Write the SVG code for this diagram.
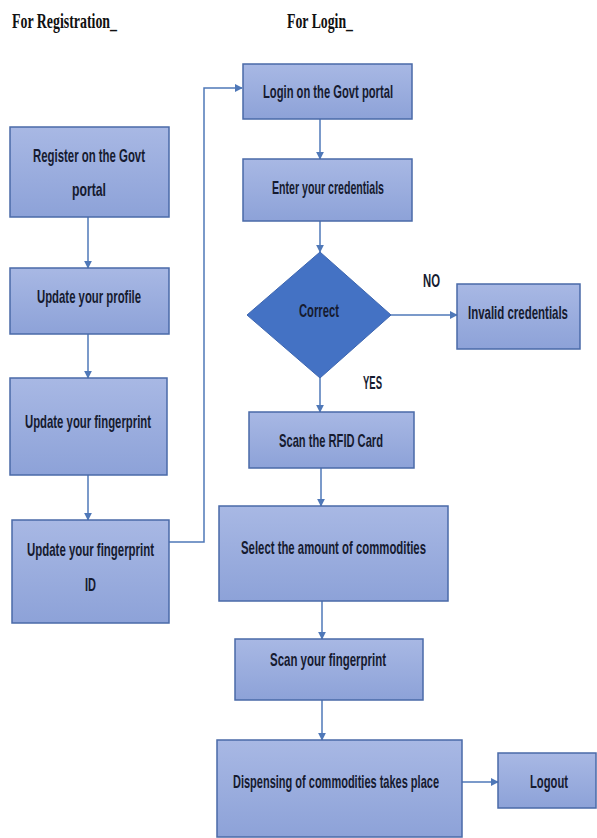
<svg xmlns="http://www.w3.org/2000/svg" width="597" height="838" viewBox="0 0 597 838">
<defs>
<linearGradient id="boxg" x1="0" y1="0" x2="0" y2="1">
<stop offset="0" stop-color="#a8b8e4"/>
<stop offset="1" stop-color="#8da2d8"/>
</linearGradient>
<marker id="arr" viewBox="0 0 10 10" refX="9" refY="5" markerWidth="8" markerHeight="8" markerUnits="userSpaceOnUse" orient="auto">
<path d="M0,0 L10,5 L0,10 z" fill="#4f78b8"/>
</marker>
<style>
.box{fill:url(#boxg);stroke:#4a6aa8;stroke-width:1.5}
.dia{fill:#4472c4;stroke:#3d66b0;stroke-width:1}
.lbl{font-family:"Liberation Sans",Arial,sans-serif;font-weight:bold;font-size:19px;fill:#161b30}
.ttl{font-family:"Liberation Serif","Times New Roman",serif;font-weight:bold;font-size:21px;fill:#111}
.con{fill:none;stroke:#4f78b8;stroke-width:1.5;marker-end:url(#arr)}
</style>
</defs>
<rect width="597" height="838" fill="#ffffff"/>
<text class="ttl" x="12" y="28" textLength="105" lengthAdjust="spacingAndGlyphs">For Registration_</text>
<text class="ttl" x="287" y="28" textLength="66" lengthAdjust="spacingAndGlyphs">For Login_</text>
<g id="connectors">
<line class="con" x1="88" y1="217" x2="88" y2="268"/>
<line class="con" x1="88" y1="334" x2="88" y2="378"/>
<line class="con" x1="88" y1="475" x2="88" y2="520"/>
<polyline class="con" points="169,542 204,542 204,88 242,88"/>
<line class="con" x1="320" y1="119" x2="320" y2="159"/>
<line class="con" x1="320" y1="221" x2="320" y2="252"/>
<line class="con" x1="391" y1="315" x2="457" y2="315"/>
<line class="con" x1="320" y1="378" x2="320" y2="412"/>
<line class="con" x1="321" y1="468" x2="321" y2="506"/>
<line class="con" x1="322" y1="601" x2="322" y2="639"/>
<line class="con" x1="322" y1="700" x2="322" y2="740"/>
<line class="con" x1="462" y1="782" x2="498" y2="782"/>
<text class="lbl" x="423" y="287" textLength="17" lengthAdjust="spacingAndGlyphs">NO</text>
<text class="lbl" x="363" y="389" textLength="19" lengthAdjust="spacingAndGlyphs">YES</text>
</g>
<g id="register">
<rect class="box" x="10" y="127" width="159" height="90"/>
<text class="lbl" x="33" y="162" textLength="112" lengthAdjust="spacingAndGlyphs">Register on the Govt</text>
<text class="lbl" x="72" y="196" textLength="34" lengthAdjust="spacingAndGlyphs">portal</text>
</g>
<g id="profile">
<rect class="box" x="10" y="268" width="159" height="66"/>
<text class="lbl" x="37" y="303" textLength="104" lengthAdjust="spacingAndGlyphs">Update your profile</text>
</g>
<g id="fingerprint">
<rect class="box" x="10" y="378" width="157" height="97"/>
<text class="lbl" x="25" y="428" textLength="126" lengthAdjust="spacingAndGlyphs">Update your fingerprint</text>
</g>
<g id="fingerprintid">
<rect class="box" x="12" y="520" width="157" height="103"/>
<text class="lbl" x="27" y="556" textLength="127" lengthAdjust="spacingAndGlyphs">Update your fingerprint</text>
<text class="lbl" x="85" y="591" textLength="11" lengthAdjust="spacingAndGlyphs">ID</text>
</g>
<g id="login">
<rect class="box" x="243" y="64" width="169" height="55"/>
<text class="lbl" x="263" y="98" textLength="130" lengthAdjust="spacingAndGlyphs">Login on the Govt portal</text>
</g>
<g id="credentials">
<rect class="box" x="243" y="159" width="169" height="62"/>
<text class="lbl" x="272" y="194" textLength="112" lengthAdjust="spacingAndGlyphs">Enter your credentials</text>
</g>
<g id="correct">
<polygon class="dia" points="320,252 391,315 320,378 247,315"/>
<text class="lbl" x="299" y="317" textLength="40" lengthAdjust="spacingAndGlyphs">Correct</text>
</g>
<g id="invalid">
<rect class="box" x="457" y="284" width="123" height="65"/>
<text class="lbl" x="468" y="319" textLength="100" lengthAdjust="spacingAndGlyphs">Invalid credentials</text>
</g>
<g id="rfid">
<rect class="box" x="249" y="412" width="165" height="56"/>
<text class="lbl" x="279" y="447" textLength="104" lengthAdjust="spacingAndGlyphs">Scan the RFID Card</text>
</g>
<g id="select">
<rect class="box" x="219" y="506" width="229" height="95"/>
<text class="lbl" x="241" y="554" textLength="185" lengthAdjust="spacingAndGlyphs">Select the amount of commodities</text>
</g>
<g id="scanfp">
<rect class="box" x="235" y="639" width="188" height="61"/>
<text class="lbl" x="270" y="666" textLength="116" lengthAdjust="spacingAndGlyphs">Scan your fingerprint</text>
</g>
<g id="dispense">
<rect class="box" x="217" y="740" width="245" height="97"/>
<text class="lbl" x="233" y="788" textLength="206" lengthAdjust="spacingAndGlyphs">Dispensing of commodities takes place</text>
</g>
<g id="logout">
<rect class="box" x="498" y="753" width="98" height="55"/>
<text class="lbl" x="530" y="788" textLength="38" lengthAdjust="spacingAndGlyphs">Logout</text>
</g>
</svg>
